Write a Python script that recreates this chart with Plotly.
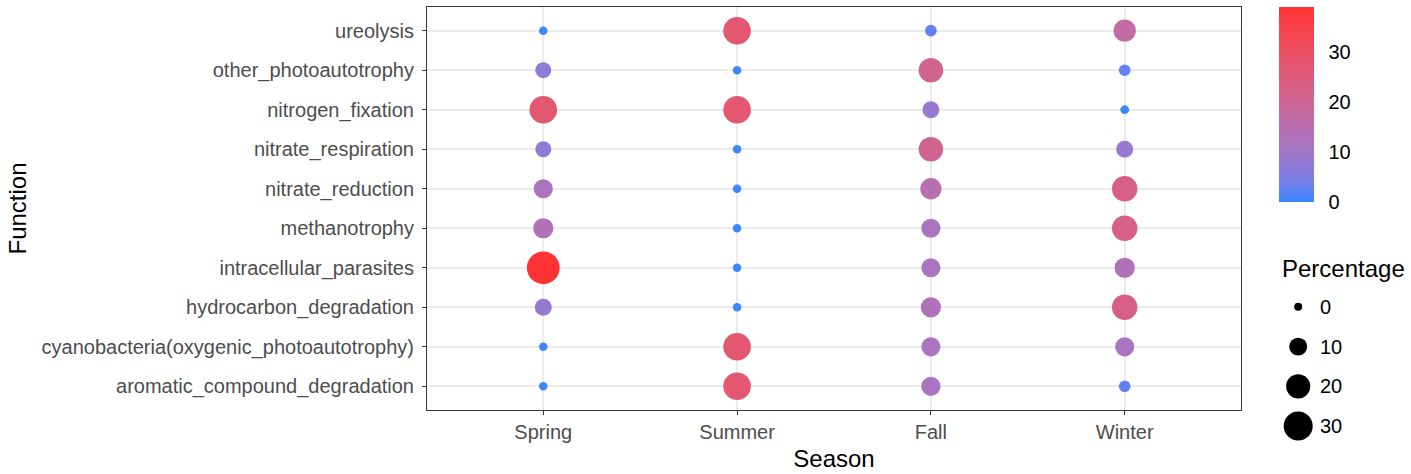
import numpy as np
import plotly.graph_objects as go

# categories (bottom -> top on the y axis)
functions = [
    "aromatic_compound_degradation",
    "cyanobacteria(oxygenic_photoautotrophy)",
    "hydrocarbon_degradation",
    "intracellular_parasites",
    "methanotrophy",
    "nitrate_reduction",
    "nitrate_respiration",
    "nitrogen_fixation",
    "other_photoautotrophy",
    "ureolysis",
]
seasons = ["Spring", "Summer", "Fall", "Winter"]

# percentage per function, one list per season (same order as functions)
spring = [0.3, 0.3, 8.7, 39.0, 13.3, 11.7, 7.4, 27.0, 7.4, 0.3]
summer = [27.0, 27.0, 0.3, 0.3, 0.3, 0.3, 0.3, 27.0, 0.3, 27.0]
fall = [11.7, 11.7, 13.3, 11.7, 11.7, 15.0, 20.7, 8.7, 20.7, 2.8]
winter = [2.8, 11.7, 22.6, 13.3, 22.6, 22.6, 8.7, 0.5, 2.8, 16.7]

size_breaks = [0, 10, 20, 30]
color_ticks = [0, 10, 20, 30]

LOW = "#3A86FF"
HIGH = "#FF3333"
FONT = "Liberation Sans, Arial, sans-serif"


def hex_to_lab(h):
    rgb = np.array([int(h[i:i + 2], 16) / 255 for i in (1, 3, 5)])
    lin = np.where(rgb > 0.04045, ((rgb + 0.055) / 1.055) ** 2.4, rgb / 12.92)
    m = np.array([[0.4124, 0.3576, 0.1805], [0.2126, 0.7152, 0.0722], [0.0193, 0.1192, 0.9505]])
    xyz = m @ lin / np.array([0.95047, 1.0, 1.08883])
    f = np.where(xyz > 0.008856, np.cbrt(xyz), 7.787 * xyz + 16 / 116)
    return np.array([116 * f[1] - 16, 500 * (f[0] - f[1]), 200 * (f[1] - f[2])])


def lab_to_rgb(lab):
    fy = (lab[0] + 16) / 116
    fx = fy + lab[1] / 500
    fz = fy - lab[2] / 200
    f = np.array([fx, fy, fz])
    xyz = np.where(f ** 3 > 0.008856, f ** 3, (f - 16 / 116) / 7.787) * np.array([0.95047, 1.0, 1.08883])
    m = np.array([[3.2406, -1.5372, -0.4986], [-0.9689, 1.8758, 0.0415], [0.0557, -0.2040, 1.0570]])
    lin = m @ xyz
    rgb = np.where(lin > 0.0031308, 1.055 * np.clip(lin, 0, None) ** (1 / 2.4) - 0.055, 12.92 * lin)
    rgb = np.clip(rgb, 0, 1) * 255
    return "rgb(%d,%d,%d)" % tuple(np.round(rgb))


# ggplot-like gradient interpolated in Lab space
lab_lo, lab_hi = hex_to_lab(LOW), hex_to_lab(HIGH)
colorscale = [[t, lab_to_rgb(lab_lo + (lab_hi - lab_lo) * t)] for t in np.linspace(0, 1, 11)]


def diameter(v):
    return np.sqrt(64 + 25.9 * np.asarray(v, dtype=float))


xs, ys, vals = [], [], []
for season, col in zip(seasons, [spring, summer, fall, winter]):
    for fn, v in zip(functions, col):
        xs.append(season)
        ys.append(fn)
        vals.append(v)

fig = go.Figure()
fig.add_trace(go.Scatter(
    x=xs, y=ys, mode="markers",
    marker=dict(
        size=diameter(vals), color=vals, colorscale=colorscale, cmin=0, cmax=max(vals),
        opacity=1, line=dict(width=0),
        colorbar=dict(
            x=0.8747, xanchor="left", y=1, yanchor="top", len=195, lenmode="pixels",
            thickness=35, outlinewidth=0, xpad=0, ypad=0, tickvals=color_ticks,
            ticks="outside", tickcolor="rgba(0,0,0,0)", ticklen=11,
            tickfont=dict(family=FONT, size=20, color="black"),
        ),
    ),
    showlegend=False, hoverinfo="x+y",
))

# size legend drawn on its own small axes
fig.add_trace(go.Scatter(
    x=[0.15] * len(size_breaks), y=list(range(len(size_breaks))), mode="markers",
    marker=dict(size=diameter(size_breaks), color="#000000", opacity=1, line=dict(width=0)),
    xaxis="x2", yaxis="y2", showlegend=False, hoverinfo="skip",
))
for i, b in enumerate(size_breaks):
    fig.add_annotation(x=0.317, y=i, xref="x2", yref="y2", text=str(b), showarrow=False,
                       xanchor="left", font=dict(family=FONT, size=20, color="black"))
fig.add_annotation(x=0.8758, y=0.416, xref="paper", yref="paper", text="Percentage",
                   showarrow=False, xanchor="left", yanchor="middle",
                   font=dict(family=FONT, size=24, color="black"))

axis_common = dict(
    showgrid=True, gridcolor="#EBEBEB", gridwidth=2, showline=True, linecolor="#333333",
    linewidth=1, mirror=True, ticks="outside", ticklen=4, tickcolor="#333333",
    tickfont=dict(family=FONT, size=20, color="#4D4D4D"), zeroline=False, automargin=False,
)
fig.update_layout(
    width=1411, height=474, plot_bgcolor="white", paper_bgcolor="white",
    margin=dict(l=427, r=10, t=7, b=20),
    xaxis=dict(**axis_common, domain=[0, 0.8357], type="category", categoryorder="array",
               categoryarray=seasons, range=[-0.6, 3.6],
               title=dict(text="Season", font=dict(family=FONT, size=24, color="black"), standoff=8)),
    yaxis=dict(**axis_common, domain=[0.0984, 1], type="category", categoryorder="array",
               categoryarray=functions, range=[-0.6, 9.6], ticklabelstandoff=4,
               title=dict(text="Function", font=dict(family=FONT, size=24, color="black"), standoff=8)),
    xaxis2=dict(domain=[0.876, 0.999], range=[0, 1], visible=False, fixedrange=True, anchor="y2"),
    yaxis2=dict(domain=[0.0179, 0.3736], range=[3.5, -0.5], visible=False, fixedrange=True,
                anchor="x2"),
)

fig.write_html("out.html", config={"displayModeBar": False},
               post_script="document.body.style.margin='0';")
